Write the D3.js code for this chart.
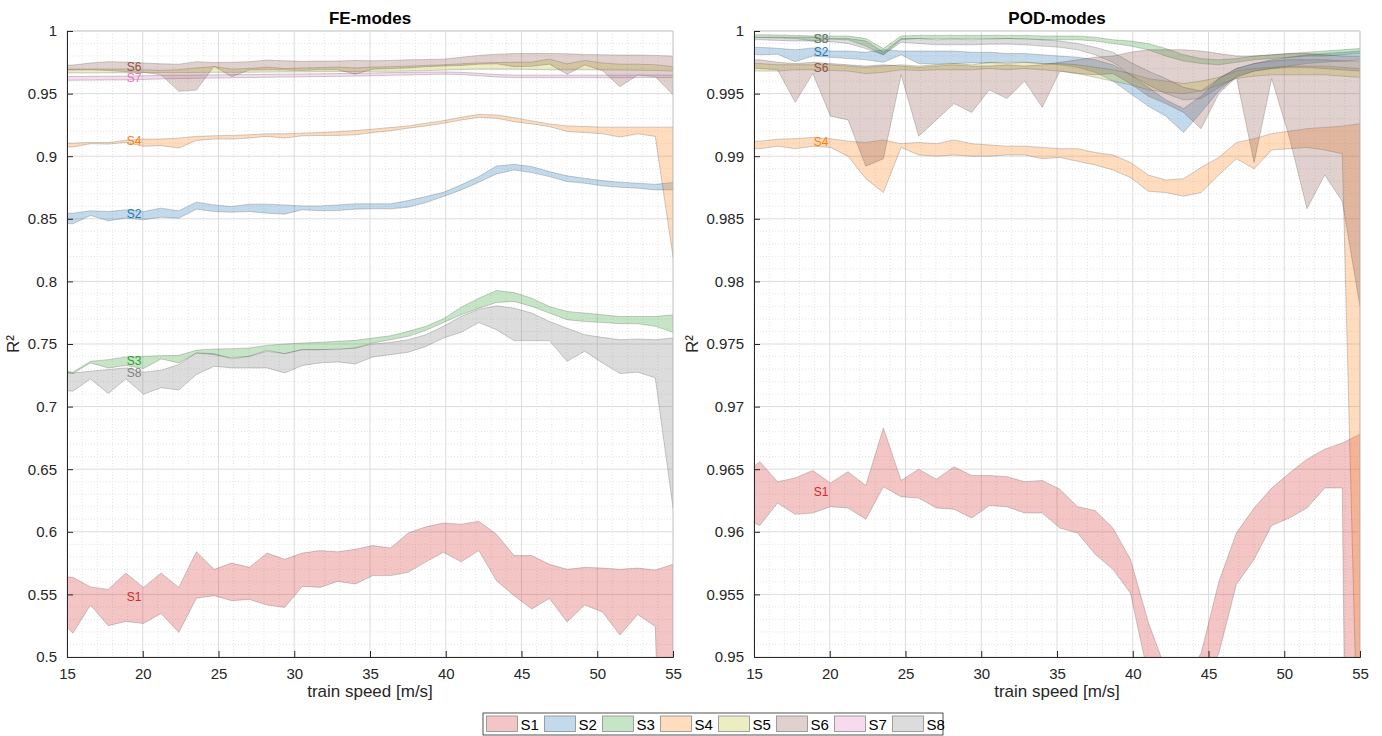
<!DOCTYPE html>
<html>
<head>
<meta charset="utf-8">
<script src="https://cdn.jsdelivr.net/npm/d3@7"></script>
<style>
  html, body { margin: 0; padding: 0; background: #fff; }
  svg { display: block; font-family: "Liberation Sans", Arial, Helvetica, sans-serif; }
</style>
</head>
<body>
<svg id="chart" width="1382" height="736"></svg>
<script>
// Train speeds [m/s] at which R² was evaluated
const speeds = [14.22, 15.39, 16.55, 17.72, 18.88, 20.05, 21.21, 22.38, 23.54, 24.71, 25.87, 27.04,
                28.20, 29.37, 30.53, 31.70, 32.86, 34.03, 35.19, 36.36, 37.52, 38.69, 39.85, 41.02,
                42.18, 43.35, 44.51, 45.68, 46.84, 48.01, 49.17, 50.34, 51.50, 52.67, 53.83, 55.00];

const seriesNames = ["S1", "S2", "S3", "S4", "S5", "S6", "S7", "S8"];
const seriesColors = ["#d62728", "#1f77b4", "#2ca02c", "#ff7f0e", "#bcbd22", "#8c564b", "#e377c2", "#7f7f7f"];

const xTicks = [15, 20, 25, 30, 35, 40, 45, 50, 55];
const feTicks = [0.5, 0.55, 0.6, 0.65, 0.7, 0.75, 0.8, 0.85, 0.9, 0.95, 1];
const podTicks = [0.95, 0.955, 0.96, 0.965, 0.97, 0.975, 0.98, 0.985, 0.99, 0.995, 1];

// ---- FE-modes: R² range (upper / lower) per sensor ----
const feS1Hi = [.5648,.5636,.556,.554,.567,.5556,.567,.5556,.584,.570,.575,.5716,.583,.578,.583,.585,.584,.586,.589,.587,.599,.604,.607,.606,.6085,.598,.581,.581,.574,.570,.5716,.571,.570,.571,.5695,.574];
const feS1Lo = [.533,.519,.5415,.525,.5284,.5268,.5348,.5196,.547,.549,.545,.546,.5415,.5396,.5564,.5556,.5604,.5583,.565,.565,.5676,.576,.5836,.576,.585,.561,.549,.5383,.5468,.528,.5415,.536,.5175,.534,.5244,.05];
const feS2Hi = [.8545,.8545,.8564,.8558,.8572,.8558,.8585,.8564,.8633,.8611,.8598,.8617,.8617,.8611,.8603,.8603,.8611,.862,.862,.862,.8646,.8678,.8712,.8771,.8837,.8922,.8935,.8917,.8877,.8843,.8824,.8805,.8792,.8784,.8776,.8789];
const feS2Lo = [.8468,.846,.8527,.8484,.8505,.8492,.8513,.8505,.8577,.8558,.8553,.8558,.8545,.8537,.8572,.8564,.8566,.8577,.858,.858,.8593,.863,.8678,.8731,.8792,.8858,.889,.8869,.8837,.8797,.8784,.8763,.8752,.8744,.8731,.8731];
const feS3Hi = [.7296,.7275,.7362,.7375,.7397,.7402,.7407,.741,.745,.746,.7463,.7468,.7489,.75,.7508,.7513,.7521,.7529,.7548,.7566,.7601,.7641,.7702,.7794,.7866,.7927,.7911,.7866,.78,.776,.7747,.7733,.772,.772,.772,.7733];
const feS3Lo = [.7278,.7264,.7349,.7309,.7328,.7304,.7381,.7349,.7428,.7415,.7389,.7402,.745,.7423,.7455,.7455,.746,.7468,.7508,.7534,.7561,.7609,.7672,.7733,.7786,.7832,.784,.78,.7747,.7694,.768,.7672,.7662,.7662,.7641,.7593];
const feS4Hi = [.9105,.9105,.911,.911,.9126,.9137,.9137,.9145,.9158,.9163,.9166,.9171,.9179,.9179,.9184,.9189,.9195,.9205,.9216,.9229,.9242,.9263,.9284,.9311,.9334,.9329,.9308,.9282,.9258,.9242,.9237,.9232,.9232,.9232,.9232,.9232];
const feS4Lo = [.9074,.9074,.91,.9097,.911,.9079,.9084,.9066,.9126,.9137,.9137,.9145,.9158,.9145,.9163,.9166,.9166,.9171,.9189,.9203,.9224,.9242,.9263,.9289,.9311,.9303,.9276,.9258,.9237,.9197,.9189,.9179,.9153,.9179,.9158,.8195];
const feS5Hi = [.9695,.9695,.9695,.9695,.9695,.969,.9685,.969,.9705,.9716,.9695,.970,.9712,.970,.9705,.9708,.9712,.9705,.9712,.9715,.972,.9725,.973,.9738,.9745,.9748,.975,.9752,.9775,.9738,.9765,.9745,.9735,.9735,.973,.9715];
const feS5Lo = [.9665,.9665,.9666,.9666,.9667,.9668,.9668,.9668,.9669,.967,.967,.9671,.9672,.9673,.9674,.9675,.9676,.9677,.9678,.9679,.968,.9684,.9688,.9692,.9695,.9695,.9695,.9693,.969,.969,.969,.9689,.9688,.9687,.9685,.968];
const feS6Hi = [.9725,.9728,.9745,.9755,.9752,.9745,.9738,.9735,.9755,.9748,.975,.9755,.9768,.9762,.9758,.976,.976,.9765,.9762,.9765,.977,.9772,.9775,.979,.9805,.9815,.982,.982,.982,.9818,.9812,.981,.9808,.9808,.9805,.980];
const feS6Lo = [.9688,.9688,.969,.9685,.9675,.967,.965,.9518,.9528,.9718,.9635,.9688,.969,.9688,.9685,.969,.969,.9655,.9695,.97,.9705,.9715,.972,.9725,.9735,.9738,.9715,.9718,.9735,.9655,.9728,.9685,.9555,.9648,.9635,.949];
const feS7Hi = [.9635,.9636,.9638,.9639,.964,.9642,.9645,.9647,.9648,.965,.9651,.9652,.9654,.9655,.9657,.9658,.966,.9662,.9665,.9668,.967,.9672,.9673,.967,.9662,.9652,.9648,.9647,.9647,.9648,.9648,.9647,.9647,.9648,.9648,.9648];
const feS7Lo = [.9606,.9607,.9608,.9609,.961,.9613,.9617,.962,.9622,.9624,.9626,.9628,.963,.9632,.9634,.9636,.9638,.964,.9643,.9646,.9649,.9652,.9655,.9652,.9643,.9633,.9628,.9627,.9627,.9627,.9628,.9627,.9627,.9628,.9628,.9628];
const feS8Hi = [.7285,.7268,.7282,.7296,.7309,.7275,.7291,.7336,.7428,.7423,.7381,.7402,.7442,.7423,.7455,.7455,.7455,.7468,.75,.7513,.7534,.7574,.7641,.772,.7778,.7805,.7786,.7747,.768,.7626,.7574,.7553,.7534,.754,.7534,.7548];
const feS8Lo = [.7135,.7123,.7221,.7105,.7221,.7098,.7151,.7133,.7256,.7322,.7309,.7309,.7309,.7269,.7328,.7349,.7357,.7341,.7397,.7415,.7434,.7481,.7548,.7593,.7672,.7614,.7527,.7527,.7527,.7362,.7442,.7349,.7264,.7275,.723,.619];

// ---- POD-modes: R² range (upper / lower) per sensor ----
const podS1Hi = [.9645,.9656,.9640,.9643,.9649,.9639,.9648,.9637,.9683,.9641,.9650,.9642,.9652,.9645,.9645,.9644,.9640,.9641,.9634,.9620,.9617,.9603,.9578,.9528,.9490,.9480,.9503,.9560,.9599,.9619,.9635,.9647,.9658,.9666,.9671,.9678];
const podS1Lo = [.9611,.9605,.9623,.9614,.9615,.9620,.9619,.9610,.9636,.9628,.9627,.9619,.9618,.9611,.9621,.9620,.9615,.9615,.9603,.9599,.9582,.9570,.9551,.9485,.9450,.9440,.9475,.9503,.9558,.9578,.9605,.9611,.9619,.9635,.9635,.8300];
const podS2Hi = [.9987,.9987,.99862,.9985,.99865,.9984,.9984,.9983,.9985,.9984,.9984,.9984,.9984,.9983,.9983,.9982,.9982,.9981,.9980,.9979,.9977,.9973,.9965,.9955,.9945,.9938,.9948,.9962,.9970,.9974,.9977,.9979,.9981,.9982,.9983,.9984];
const podS2Lo = [.9982,.9981,.99815,.99755,.998,.9979,.9978,.9977,.9975,.9981,.9974,.99735,.9974,.99745,.99745,.9975,.9975,.9974,.9973,.9971,.9967,.9960,.9950,.9940,.9932,.9919,.9935,.9952,.9964,.9968,.9970,.9972,.9974,.9975,.9976,.9977];
const podS3Hi = [.9997,.9997,.99968,.99965,.9996,.9996,.9996,.9994,.9986,.9996,.99965,.99965,.99965,.99965,.99965,.99965,.99965,.9996,.9996,.9996,.9995,.9993,.9992,.9990,.9986,.9981,.9978,.9977,.9978,.9980,.9981,.9982,.9983,.9984,.9985,.9986];
const podS3Lo = [.9995,.99948,.99945,.9994,.9992,.99935,.9993,.9988,.9981,.9993,.9994,.9994,.9994,.9994,.9994,.9994,.9994,.9993,.9993,.9993,.9992,.9990,.9988,.9985,.9980,.9976,.9974,.9973,.9975,.9977,.9978,.9979,.998,.998,.9981,.9982];
const podS4Hi = [.9912,.9912,.99135,.9914,.9915,.9914,.9912,.9911,.9913,.9910,.9911,.9910,.9913,.9910,.9909,.9908,.9908,.9907,.9906,.9906,.9903,.9901,.9895,.9885,.9881,.9882,.9891,.9899,.9911,.9914,.9918,.9920,.9922,.9923,.9924,.9926];
const podS4Lo = [.9906,.9906,.9908,.9906,.9908,.9907,.9900,.9882,.9871,.9907,.9901,.9900,.9901,.9900,.9900,.9901,.9901,.9898,.9899,.9896,.9893,.9889,.9883,.9872,.9871,.9868,.9871,.9885,.9898,.9890,.9905,.9906,.9907,.9905,.9902,.9350];
const podS5Hi = [.9974,.9974,.9973,.9973,.9973,.9973,.9972,.9971,.9972,.9973,.9972,.9973,.9974,.9973,.9975,.9974,.9975,.9974,.9974,.9973,.9971,.9969,.9966,.9962,.9960,.9958,.9960,.9963,.9968,.9970,.9971,.9972,.9972,.9972,.9971,.9970];
const podS5Lo = [.99685,.9968,.9968,.9969,.9969,.99685,.9968,.9966,.9967,.9969,.99685,.9969,.9969,.9969,.997,.9969,.997,.9969,.9968,.9966,.9963,.996,.9957,.9953,.9951,.9950,.9952,.9957,.9962,.9964,.9965,.9965,.9965,.9965,.9964,.9963];
const podS6Hi = [.9977,.9977,.9975,.9974,.9975,.9974,.9973,.9972,.9973,.9972,.9971,.9972,.9973,.9972,.9972,.9973,.9972,.9973,.9975,.9977,.9979,.9980,.9983,.9985,.9985,.9985,.9984,.9982,.9980,.9980,.9981,.9982,.9982,.9981,.9980,.9980];
const podS6Lo = [.9971,.9970,.9969,.9943,.9966,.9932,.9929,.9892,.9898,.9965,.9916,.9929,.9942,.9935,.9953,.9946,.9960,.9939,.9968,.9966,.9965,.9966,.9958,.9948,.9942,.9935,.9922,.9950,.9963,.9895,.9962,.9915,.9858,.9885,.9864,.9780];
const podS8Hi = [.99955,.9995,.9995,.9995,.9995,.9994,.9994,.9992,.9983,.9994,.9994,.9993,.99935,.9993,.99935,.9994,.99935,.9993,.9992,.9990,.9987,.9983,.9975,.9968,.9962,.9955,.9952,.9962,.9970,.9974,.9976,.9977,.9977,.9977,.9976,.9976];
const podS8Lo = [.9993,.9993,.99925,.9992,.9992,.99915,.9990,.9986,.9981,.9991,.9990,.9989,.9989,.9989,.99895,.99895,.9989,.9988,.9987,.9985,.9981,.9975,.9965,.9957,.9950,.9945,.9946,.9955,.9963,.9968,.9970,.9971,.9971,.9970,.9969,.9968];

// Bands drawn in each panel (S7 lies entirely below the POD axis range)
const feBands = [
  { name: "S1", hi: feS1Hi, lo: feS1Lo, label: true },
  { name: "S2", hi: feS2Hi, lo: feS2Lo, label: true },
  { name: "S3", hi: feS3Hi, lo: feS3Lo, label: true },
  { name: "S4", hi: feS4Hi, lo: feS4Lo, label: true },
  { name: "S5", hi: feS5Hi, lo: feS5Lo, label: false },
  { name: "S6", hi: feS6Hi, lo: feS6Lo, label: true },
  { name: "S7", hi: feS7Hi, lo: feS7Lo, label: true },
  { name: "S8", hi: feS8Hi, lo: feS8Lo, label: true }
];
const podBands = [
  { name: "S1", hi: podS1Hi, lo: podS1Lo, label: true },
  { name: "S2", hi: podS2Hi, lo: podS2Lo, label: true },
  { name: "S3", hi: podS3Hi, lo: podS3Lo, label: true },
  { name: "S4", hi: podS4Hi, lo: podS4Lo, label: true },
  { name: "S5", hi: podS5Hi, lo: podS5Lo, label: false },
  { name: "S6", hi: podS6Hi, lo: podS6Lo, label: true },
  { name: "S8", hi: podS8Hi, lo: podS8Lo, label: true }
];

const LABEL_INDEX = 4;   // sample at which each band is annotated
const FILL_OPACITY = 0.27;
const colorOf = d3.scaleOrdinal(seriesNames, seriesColors);

const svg = d3.select("#chart");
const axisColor = "#262626";
const plotTop = 31, plotBottom = 657, plotW = 606;

function drawPanel(opts) {
  const { left, title, yDomain, yTicks, minorStep, bands, id, yLabelOffset } = opts;
  const x = d3.scaleLinear().domain([15, 55]).range([left, left + plotW]);
  const y = d3.scaleLinear().domain(yDomain).range([plotBottom, plotTop]);
  const g = svg.append("g");

  // minor grid (dotted)
  const xMinor = d3.range(15, 55.001, 1).filter(v => Math.abs(v % 5) > 1e-6);
  const nMinorY = Math.round((yDomain[1] - yDomain[0]) / minorStep);
  const yMinor = d3.range(0, nMinorY + 1).map(k => yDomain[0] + k * minorStep)
    .filter(v => !yTicks.some(t => Math.abs(t - v) < minorStep / 10));
  g.append("g").selectAll("line").data(xMinor).join("line")
    .attr("x1", d => x(d)).attr("x2", d => x(d)).attr("y1", plotTop).attr("y2", plotBottom)
    .attr("stroke", "#dedede").attr("stroke-width", 0.8).attr("stroke-dasharray", "1,2");
  g.append("g").selectAll("line").data(yMinor).join("line")
    .attr("x1", left).attr("x2", left + plotW).attr("y1", d => y(d)).attr("y2", d => y(d))
    .attr("stroke", "#dedede").attr("stroke-width", 0.8).attr("stroke-dasharray", "1,2");

  // major grid
  g.append("g").selectAll("line").data(xTicks).join("line")
    .attr("x1", d => x(d)).attr("x2", d => x(d)).attr("y1", plotTop).attr("y2", plotBottom)
    .attr("stroke", "#dcdcdc").attr("stroke-width", 1);
  g.append("g").selectAll("line").data(yTicks).join("line")
    .attr("x1", left).attr("x2", left + plotW).attr("y1", d => y(d)).attr("y2", d => y(d))
    .attr("stroke", "#dcdcdc").attr("stroke-width", 1);

  // clipped band layer
  svg.append("clipPath").attr("id", id)
    .append("rect").attr("x", left).attr("y", plotTop).attr("width", plotW).attr("height", plotBottom - plotTop);
  const layer = g.append("g").attr("clip-path", `url(#${id})`);

  const area = d3.area()
    .x((d, i) => x(speeds[i]))
    .y0(d => y(d[0]))
    .y1(d => y(d[1]));

  bands.forEach(b => {
    const pts = b.lo.map((v, i) => [v, b.hi[i]]);
    layer.append("path")
      .attr("d", area(pts))
      .attr("fill", colorOf(b.name)).attr("fill-opacity", FILL_OPACITY)
      .attr("stroke", "#3a3a3a").attr("stroke-opacity", 0.3).attr("stroke-width", 0.8)
      .attr("stroke-linejoin", "miter");
    if (b.label) {
      const k = LABEL_INDEX;
      layer.append("text")
        .attr("x", x(speeds[k]) + 1)
        .attr("y", y((b.hi[k] + b.lo[k]) / 2))
        .attr("dominant-baseline", "central")
        .attr("font-size", 12)
        .attr("fill", colorOf(b.name))
        .text(b.name);
    }
  });

  // axes frame
  g.append("line").attr("x1", left + plotW).attr("x2", left + plotW).attr("y1", plotTop).attr("y2", plotBottom)
    .attr("stroke", "#cfcfcf");
  g.append("line").attr("x1", left).attr("x2", left + plotW).attr("y1", plotTop).attr("y2", plotTop)
    .attr("stroke", "#cfcfcf");

  const xAxis = d3.axisBottom(x).tickValues(xTicks).tickSize(-6).tickPadding(11).tickFormat(d3.format("d"));
  const yAxis = d3.axisLeft(y).tickValues(yTicks).tickSize(-6).tickPadding(10).tickFormat(d3.format("~g"));

  const gx = g.append("g").attr("transform", `translate(0,${plotBottom})`).call(xAxis);
  const gy = g.append("g").attr("transform", `translate(${left},0)`).call(yAxis);
  [gx, gy].forEach(a => {
    a.select(".domain").attr("stroke", axisColor).attr("stroke-width", 1);
    a.selectAll(".tick line").attr("stroke", axisColor);
    a.selectAll(".tick text").attr("fill", axisColor).attr("font-size", 15)
      .attr("font-family", "'Liberation Sans', Arial, sans-serif");
  });

  // titles and axis labels
  g.append("text").attr("x", left + plotW / 2).attr("y", 24)
    .attr("text-anchor", "middle").attr("font-weight", "bold").attr("font-size", 17)
    .attr("fill", "#000").text(title);
  g.append("text").attr("x", left + plotW / 2).attr("y", 697)
    .attr("text-anchor", "middle").attr("font-size", 17).attr("fill", axisColor)
    .text("train speed [m/s]");
  g.append("text")
    .attr("transform", `translate(${left - yLabelOffset},${(plotTop + plotBottom) / 2}) rotate(-90)`)
    .attr("text-anchor", "middle").attr("font-size", 17).attr("fill", axisColor)
    .text("R²");
}

drawPanel({ left: 67, title: "FE-modes", yDomain: [0.5, 1], yTicks: feTicks, minorStep: 0.01,
            bands: feBands, id: "clip-fe", yLabelOffset: 48 });
drawPanel({ left: 754, title: "POD-modes", yDomain: [0.95, 1], yTicks: podTicks, minorStep: 0.001,
            bands: podBands, id: "clip-pod", yLabelOffset: 56 });

// shared legend
const legendX = 483, legendY = 713, pitch = 58;
const legend = svg.append("g");
legend.append("rect").attr("x", legendX).attr("y", legendY).attr("width", 460).attr("height", 22)
  .attr("fill", "#fff").attr("stroke", "#262626").attr("stroke-width", 0.8);
seriesNames.forEach((name, i) => {
  const gx = legendX + 3.5 + i * pitch;
  legend.append("rect").attr("x", gx).attr("y", legendY + 3).attr("width", 31).attr("height", 15.5)
    .attr("fill", colorOf(name)).attr("fill-opacity", FILL_OPACITY)
    .attr("stroke", "#8a8a8a").attr("stroke-width", 0.8);
  legend.append("text").attr("x", gx + 34).attr("y", legendY + 11.5)
    .attr("dominant-baseline", "central").attr("font-size", 15).attr("fill", "#000").text(name);
});
</script>
</body>
</html>
